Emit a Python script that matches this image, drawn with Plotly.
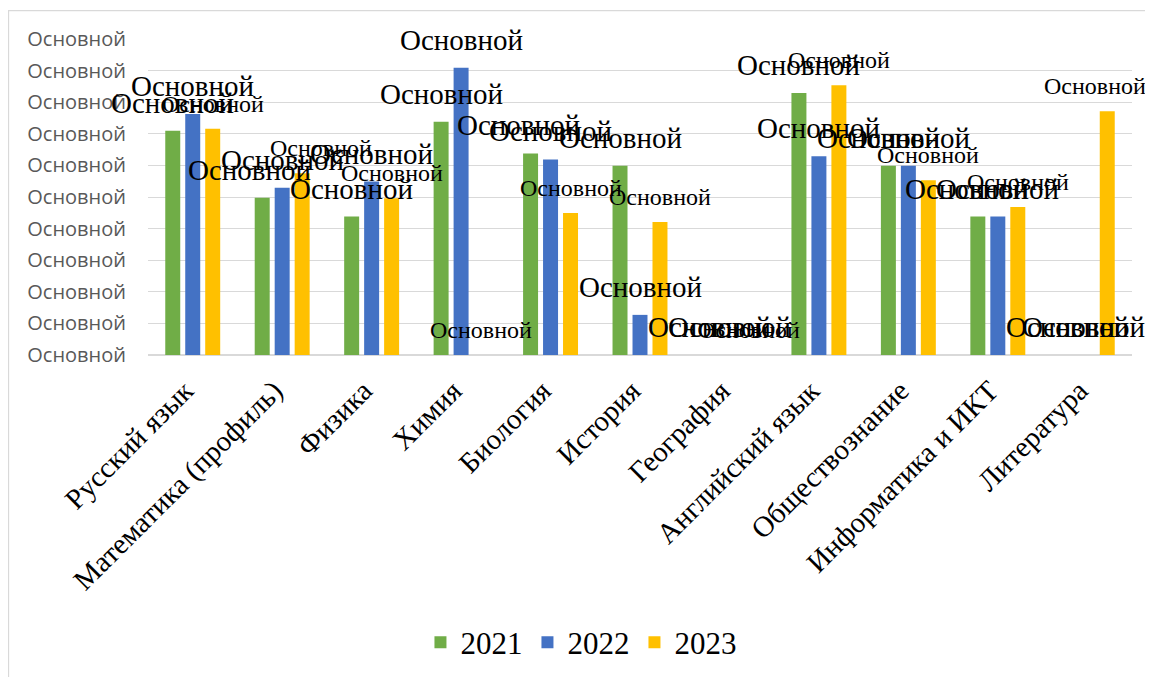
import plotly.graph_objects as go

# ---------------- data ----------------
categories = ["Русский язык", "Математика (профиль)", "Физика", "Химия", "Биология",
              "История", "География", "Английский язык", "Обществознание",
              "Информатика и ИКТ", "Литература"]
series_names = ["2021", "2022", "2023"]
values_2021 = [71.0, 49.8, 43.8, 73.8, 63.8, 59.9, 0, 82.9, 59.9, 43.8, 0]
values_2022 = [76.3, 52.9, 54.9, 90.9, 61.9, 12.7, 0, 62.9, 59.9, 43.8, 0]
values_2023 = [71.6, 57.5, 49.6, 0, 44.9, 42.1, 0, 85.4, 55.3, 46.8, 77.1]
y_tick_values = [0, 10, 20, 30, 40, 50, 60, 70, 80, 90, 100]
y_tick_labels = ["Основной"] * 11
data_label_text = "Основной"

# ---------------- styling ----------------
colors = ["#70AD47", "#4472C4", "#FFC000"]
label_sizes = [29, 29, 24]
label_yshift = [28, 28, 25]
# small manual nudges of data labels (pixels), per series per category
label_dx = [
    [0, -13, 0, 0, -12, 0, 0, 0, -10, -11, 0],
    [0, 0, 0, 0, 0, 0, 0, 0, 0, 0, -4],
    [0, 19, 0, 0, 0, 0, 0, 0, 0, 0, -12],
]
serif = "Liberation Serif, Times New Roman, serif"
sans = "Open Sans, sans-serif"

# the page body has an 8px margin, so the figure is sized to fit the window
W, H = 1145, 669
ML, MR, MT, MB = 140, 21, 31, 322
BARGAP = 0.33
BARGROUPGAP = 0.25

all_values = [values_2021, values_2022, values_2023]

fig = go.Figure()
for name, vals, col in zip(series_names, all_values, colors):
    fig.add_trace(go.Bar(name=name, x=categories, y=vals, marker_color=col,
                         marker_line_width=0))

plot_w = W - ML - MR
plot_h = H - MT - MB
slot_px = plot_w / len(categories) * (1 - BARGAP) / len(series_names)
annotations = []
for s, vals in enumerate(all_values):
    base_dx = (s - (len(series_names) - 1) / 2) * slot_px
    for i, (cat, v) in enumerate(zip(categories, vals)):
        annotations.append(dict(
            x=cat, y=v, xref="x", yref="y", text=data_label_text, showarrow=False,
            xanchor="center", yanchor="middle",
            xshift=base_dx + label_dx[s][i], yshift=label_yshift[s],
            font=dict(family=serif, size=label_sizes[s], color="#000000")))

fig.update_layout(
    width=W, height=H,
    margin=dict(l=ML, r=MR, t=MT, b=MB, autoexpand=False),
    paper_bgcolor="white", plot_bgcolor="white",
    font=dict(family=serif, color="#000000"),
    barmode="group", bargap=BARGAP, bargroupgap=BARGROUPGAP,
    annotations=annotations,
    showlegend=True,
    legend=dict(orientation="h", x=0.44, xanchor="center", y=-0.91, yanchor="middle",
                font=dict(family=serif, size=31, color="#000000"),
                itemwidth=30, traceorder="normal"),
    shapes=[dict(type="rect", xref="paper", yref="paper",
                 x0=(0.5 - ML) / plot_w, x1=(W + 20 - ML) / plot_w,
                 y0=-(MB + 20) / plot_h, y1=1 + (MT - 2.7) / plot_h,
                 line=dict(color="#d9d9d9", width=1.3), fillcolor="rgba(0,0,0,0)",
                 layer="below")],
)
fig.update_xaxes(type="category", range=[-0.5, len(categories) - 0.5],
                 tickangle=-45, automargin=False,
                 tickfont=dict(family=serif, size=29, color="#000000"),
                 ticklabelshift=-8, ticklabelstandoff=12,
                 showgrid=False, showline=False, ticks="")
fig.update_yaxes(range=[0, 100], tickvals=y_tick_values, ticktext=y_tick_labels,
                 automargin=False, showgrid=True, gridcolor="#d9d9d9", gridwidth=1.2,
                 zeroline=True, zerolinecolor="#d9d9d9", zerolinewidth=1.6,
                 showline=False, ticks="", ticklabelstandoff=21,
                 tickfont=dict(family=sans, size=20, color="#595959"))

fig.write_html("out.html")
